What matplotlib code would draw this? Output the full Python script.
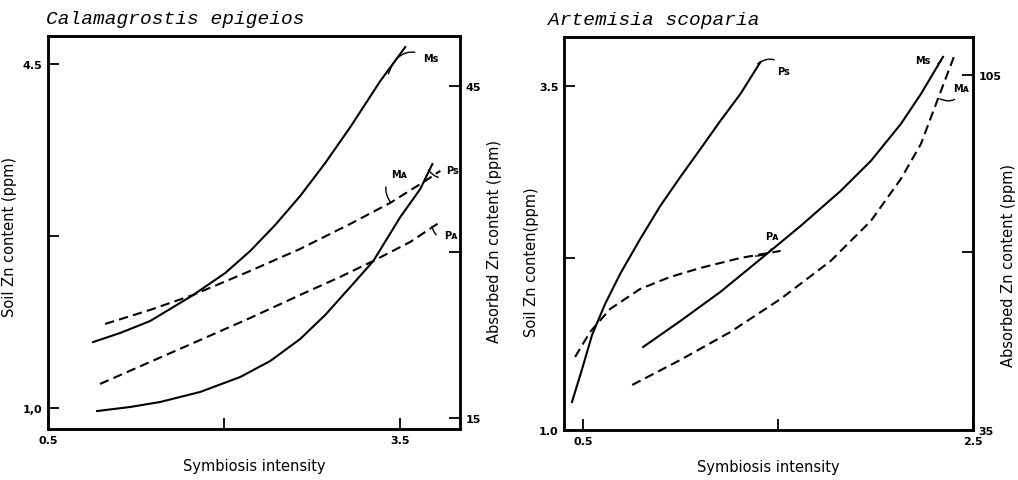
import matplotlib
matplotlib.use("Agg")
import matplotlib.pyplot as plt

# ---------------- data: Calamagrostis epigeios ----------------
cal_ms_x = [0.884, 1.114, 1.370, 1.736, 2.009, 2.222, 2.435, 2.648, 2.861, 3.075, 3.330, 3.543]
cal_ms_y = [1.671, 1.763, 1.885, 2.149, 2.373, 2.597, 2.862, 3.157, 3.492, 3.858, 4.326, 4.672]
cal_ps_x = [0.918, 1.199, 1.455, 1.796, 2.137, 2.393, 2.648, 2.861, 3.075, 3.271, 3.501, 3.671, 3.774]
cal_ps_y = [0.969, 1.010, 1.061, 1.163, 1.315, 1.478, 1.702, 1.946, 2.231, 2.495, 2.943, 3.228, 3.482]
cal_ma_x = [0.986, 1.370, 1.736, 2.222, 2.648, 3.075, 3.416, 3.714, 3.842]
cal_ma_y = [23.49, 24.76, 26.11, 28.28, 30.27, 32.53, 34.43, 36.41, 37.32]
cal_pa_x = [0.943, 1.370, 1.796, 2.222, 2.648, 2.989, 3.271, 3.586, 3.842]
cal_pa_y = [18.07, 20.06, 22.04, 24.03, 26.11, 27.74, 29.18, 30.90, 32.71]

# ---------------- data: Artemisia scoparia ----------------
art_ps_x = [0.443, 0.495, 0.546, 0.613, 0.690, 0.793, 0.896, 0.999, 1.102, 1.204, 1.307, 1.410]
art_ps_y = [1.203, 1.443, 1.690, 1.916, 2.134, 2.388, 2.628, 2.839, 3.042, 3.246, 3.442, 3.674]
art_ms_x = [0.808, 0.999, 1.204, 1.436, 1.616, 1.821, 1.976, 2.130, 2.233, 2.346]
art_ms_y = [1.603, 1.792, 2.003, 2.272, 2.483, 2.737, 2.955, 3.224, 3.442, 3.711]
art_ma_x = [0.752, 0.999, 1.256, 1.513, 1.770, 1.976, 2.130, 2.233, 2.320, 2.402]
art_ma_y = [43.88, 48.81, 54.33, 60.84, 68.33, 76.22, 84.51, 91.41, 100.29, 108.57]
art_pa_x = [0.459, 0.536, 0.639, 0.793, 0.947, 1.102, 1.307, 1.513]
art_pa_y = [49.40, 54.33, 58.87, 62.81, 65.18, 66.95, 68.92, 70.31]

# ticks
cal_xticks = [0.5, 2.0, 3.5]
cal_xticklabels = ["0.5", "", "3.5"]
cal_yticks = [1.0, 2.75, 4.5]
cal_yticklabels = ["1,0", "", "4.5"]
cal_y2ticks = [15, 30, 45]
cal_y2ticklabels = ["15", "", "45"]

art_xticks = [0.5, 1.5, 2.5]
art_xticklabels = ["0.5", "", "2.5"]
art_yticks = [1.0, 2.25, 3.5]
art_yticklabels = ["1.0", "", "3.5"]
art_y2ticks = [35, 70, 105]
art_y2ticklabels = ["35", "", "105"]

plt.rcParams['font.family'] = ['DejaVu Sans']

fig = plt.figure(figsize=(10.18, 4.81), dpi=100)

SP_LW = 1.8
LW = 1.5
DASH = (0, (4.5, 2.5))
TITLE_FONT = dict(family=['Liberation Mono', 'DejaVu Sans Mono'], style='italic', fontsize=14)
LBL_FONT = dict(fontsize=10.5)
TL_SIZE = 8
CURVE_LBL = dict(fontsize=7, fontweight='bold')


def style_axes(ax, ax2):
    for a in (ax, ax2):
        for s in a.spines.values():
            s.set_linewidth(SP_LW)
        a.tick_params(direction='in', length=8, width=1.3, pad=4)
        for lab in a.get_xticklabels() + a.get_yticklabels():
            lab.set_fontsize(TL_SIZE)
            lab.set_fontweight('bold')


def leader(ax, text, xy, xytext, rad=0.6):
    ax.annotate(text, xy=xy, xytext=xytext, ha='center', va='center', **CURVE_LBL,
                arrowprops=dict(arrowstyle='-', lw=1.0, color='black',
                                connectionstyle=f'arc3,rad={rad}', shrinkA=4, shrinkB=0))


# ---------------- left panel ----------------
axL = fig.add_axes([0.0472, 0.1060, 0.4047, 0.8171])
axL2 = axL.twinx()
axL.plot(cal_ms_x, cal_ms_y, color='black', lw=LW)
axL.plot(cal_ps_x, cal_ps_y, color='black', lw=LW)
axL2.plot(cal_ma_x, cal_ma_y, color='black', lw=LW, linestyle=DASH)
axL2.plot(cal_pa_x, cal_pa_y, color='black', lw=LW, linestyle=DASH)

axL.set_xlim(0.5, 4.01)
axL.set_ylim(0.786, 4.785)
axL2.set_ylim(14.0, 49.5)
axL.set_xticks(cal_xticks, cal_xticklabels)
axL.set_yticks(cal_yticks, cal_yticklabels)
axL2.set_yticks(cal_y2ticks, cal_y2ticklabels)
style_axes(axL, axL2)
axL.set_xlabel("Symbiosis intensity", labelpad=10, **LBL_FONT)
axL.set_ylabel("Soil Zn content (ppm)", **LBL_FONT)
axL.yaxis.set_label_coords(-0.075, 0.49)
axL2.set_ylabel("Absorbed Zn content (ppm)", **LBL_FONT)
axL2.yaxis.set_label_coords(1.066, 0.48)
axL.text(-0.005, 1.033, "Calamagrostis epigeios", transform=axL.transAxes,
         ha='left', va='baseline', **TITLE_FONT)

leader(axL, "Ms", (3.40, 4.40), (3.76, 4.56), rad=0.6)
leader(axL, "Ps", (3.74, 3.42), (3.95, 3.42), rad=-0.6)
leader(axL2, "Mᴀ", (3.416, 34.5), (3.49, 37.0), rad=0.6)
leader(axL2, "Pᴀ", (3.77, 32.3), (3.93, 31.5), rad=-0.6)

# ---------------- right panel ----------------
axR = fig.add_axes([0.554, 0.1040, 0.4018, 0.8171])
axR2 = axR.twinx()
axR.plot(art_ps_x, art_ps_y, color='black', lw=LW)
axR.plot(art_ms_x, art_ms_y, color='black', lw=LW)
axR2.plot(art_ma_x, art_ma_y, color='black', lw=LW, linestyle=DASH)
axR2.plot(art_pa_x, art_pa_y, color='black', lw=LW, linestyle=DASH)

axR.set_xlim(0.402, 2.5)
axR.set_ylim(1.0, 3.856)
axR2.set_ylim(35, 112.5)
axR.set_xticks(art_xticks, art_xticklabels)
axR.set_yticks(art_yticks, art_yticklabels)
axR2.set_yticks(art_y2ticks, art_y2ticklabels)
style_axes(axR, axR2)
axR.set_xlabel("Symbiosis intensity", labelpad=10, **LBL_FONT)
axR.set_ylabel("Soil Zn conten(ppm)", **LBL_FONT)
axR.yaxis.set_label_coords(-0.061, 0.43)
axR2.set_ylabel("Absorbed Zn content (ppm)", **LBL_FONT)
axR2.yaxis.set_label_coords(1.068, 0.42)
axR.text(-0.039, 1.033, "Artemisia scoparia", transform=axR.transAxes,
         ha='left', va='baseline', **TITLE_FONT)

leader(axR, "Ps", (1.395, 3.66), (1.53, 3.61), rad=0.6)
leader(axR, "Ms", (2.335, 3.68), (2.24, 3.69), rad=0.6)
leader(axR2, "Mᴀ", (2.33, 100.3), (2.44, 102.5), rad=-0.6)
leader(axR2, "Pᴀ", (1.384, 69.3), (1.47, 73.3), rad=-0.6)

fig.savefig("out.png", dpi=100)
